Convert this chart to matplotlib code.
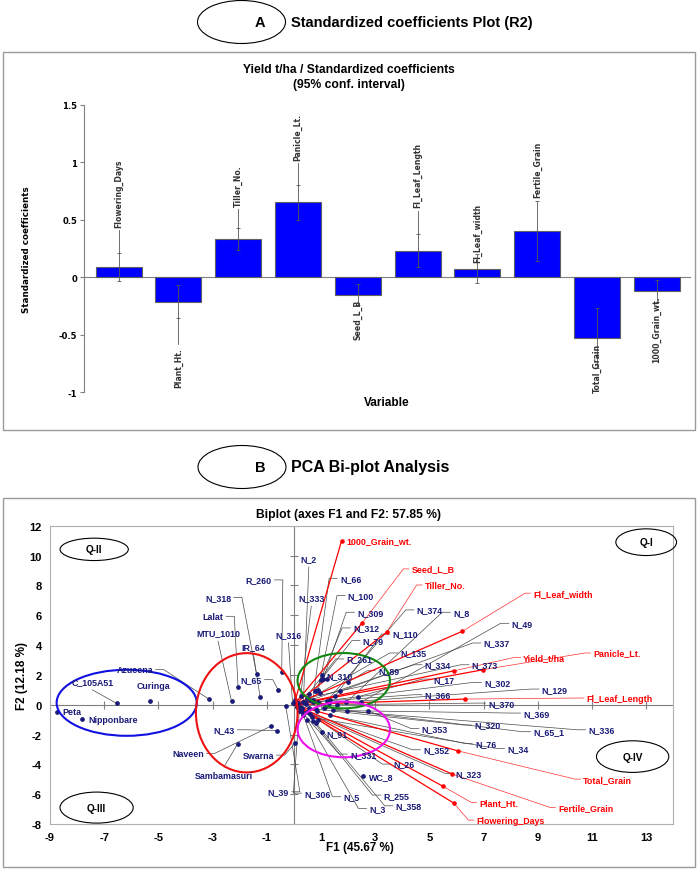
import matplotlib
matplotlib.use('Agg')
import matplotlib.pyplot as plt
from matplotlib.patches import Ellipse, Rectangle
import numpy as np

# ---------------- Panel A data ----------------
coef_vars = ['Flowering_Days', 'Plant_Ht.', 'Tiller_No.', 'Panicle_Lt.', 'Seed_L_B',
             'Fl_Leaf_Length', 'Fl_Leaf_width', 'Fertile_Grain', 'Total_Grain', '1000_Grain_wt.']
coef_vals = [0.087, -0.212, 0.333, 0.650, -0.151, 0.232, 0.075, 0.406, -0.528, -0.119]
ci_low = [-0.035, -0.357, 0.240, 0.500, -0.241, 0.090, -0.049, 0.145, -0.789, -0.218]
ci_high = [0.209, -0.067, 0.426, 0.800, -0.061, 0.374, 0.199, 0.667, -0.267, -0.020]
a_yticks = [-1, -0.5, 0, 0.5, 1, 1.5]
a_yticklabels = ['-1', '-0.5', '0', '0.5', '1', '1.5']

# ---------------- Panel B data ----------------
obs_names = ['Peta', 'Nipponbare', 'C_105A51', 'Curinga', 'Azucena', 'MTU_1010', 'Lalat', 'N_318',
             'IR_64', 'N_65', 'R_260', 'N_316', 'N_43', 'Naveen', 'Sambamasuri', 'Swarna', 'N_39',
             'N_2', 'N_333', 'N_66', 'N_100', 'N_309', 'N_312', 'N_79', 'R_261', 'N_310', 'N_110',
             'N_374', 'N_8', 'N_49', 'N_135', 'N_337', 'N_89', 'N_334', 'N_373', 'N_17', 'N_302',
             'N_129', 'N_366', 'N_370', 'N_369', 'N_336', 'N_320', 'N_65_1', 'N_353', 'N_76', 'N_34',
             'N_352', 'N_323', 'N_26', 'N_331', 'N_91', 'WC_8', 'R_255', 'N_358', 'N_3', 'N_5', 'N_306']
obs_f1 = [-8.76, -7.83, -6.54, -5.31, -3.14, -2.30, -2.06, -1.38,
          -1.25, -0.58, -0.45, -0.05, -0.64, -0.86, -2.08, 0.04, -0.30,
          0.35, 0.25, 0.70, 0.90, 1.08, 0.81, 1.00, 0.55, 1.04, 1.51,
          1.23, 1.94, 2.47, 0.96, 1.70, 1.98, 0.60, 0.50, 2.37, 0.90,
          1.30, 0.40, 1.60, 1.96, 1.45, 0.80, 1.10, 2.74, 1.35, 0.65,
          0.50, 0.60, 0.90, 0.30, 1.02, 2.56, 0.70, 0.80, 0.50, 0.35, 0.20]
obs_f2 = [-0.47, -0.96, 0.09, 0.27, 0.38, 0.23, 1.21, 2.06,
          0.54, 0.99, 2.17, 0.10, -1.74, -1.45, -2.64, -2.59, -0.10,
          0.20, 0.60, 0.35, 1.00, 1.72, 0.94, 1.68, 0.75, 1.99, 0.56,
          0.27, 0.16, 0.16, 0.80, 0.90, 1.50, 0.30, 0.45, 0.54, 0.20,
          0.10, 0.15, 0.00, -0.40, -0.36, -0.30, -0.20, -0.40, -0.70, -0.85,
          -0.50, -0.60, -1.00, -0.50, -1.85, -4.77, -1.10, -1.20, -1.00, -0.70, -0.40]
other_f1 = [0.15, 0.30, 0.45, 0.25, 0.70, 0.10, 0.85, 1.14, 0.22, 1.35, 0.55, 0.05, 1.23, 0.77]
other_f2 = [0.10, -0.20, 0.05, -0.35, 0.15, -0.15, -0.45, -0.13, -0.13, 0.30, -0.25, 0.35, 1.72, 0.94]

var_names = ['1000_Grain_wt.', 'Seed_L_B', 'Tiller_No.', 'Fl_Leaf_width', 'Yield_t/ha', 'Panicle_Lt.',
             'Fl_Leaf_Length', 'Total_Grain', 'Fertile_Grain', 'Plant_Ht.', 'Flowering_Days']
var_f1 = [1.76, 2.52, 3.42, 6.22, 5.92, 6.99, 6.31, 6.04, 5.84, 5.51, 5.90]
var_f2 = [11.00, 5.48, 4.86, 4.93, 2.28, 2.35, 0.38, -3.09, -4.65, -5.48, -6.60]

b_xticks = list(range(-9, 14, 2))
b_yticks = list(range(-8, 13, 2))
quad_names = ['Q-I', 'Q-II', 'Q-III', 'Q-IV']

# ---------------- Layout (positions / styles) ----------------
a_label_y = [0.44, -0.61, 0.62, 1.02, -0.19, 0.61, 0.13, 0.695, -0.571, -0.159]
obs_lab = [(-8.55, -0.45, 'left', False), (-7.6, -0.98, 'left', False), (-7.44, 1.55, 'center', True),
           (-5.17, 1.28, 'center', False), (-5.2, 2.35, 'right', True), (-2.8, 4.81, 'center', True),
           (-2.6, 5.93, 'right', True), (-2.32, 7.2, 'right', True), (-1.49, 3.92, 'center', True),
           (-1.18, 1.68, 'right', True), (-0.81, 8.37, 'right', True), (-0.2, 4.7, 'center', True),
           (-2.18, -1.68, 'right', True), (-3.32, -3.26, 'right', True), (-2.58, -4.72, 'center', True),
           (-0.74, -3.38, 'right', True), (-0.18, -5.84, 'right', True),
           (0.55, 9.78, 'center', True), (0.64, 7.16, 'center', True), (1.7, 8.48, 'left', True),
           (1.99, 7.32, 'left', True), (2.33, 6.2, 'left', True), (2.18, 5.15, 'left', True),
           (2.54, 4.3, 'left', True), (1.94, 3.07, 'left', True), (1.2, 1.95, 'left', False),
           (3.64, 4.74, 'left', True), (4.53, 6.36, 'left', True), (5.87, 6.2, 'left', True),
           (8.03, 5.46, 'left', True), (3.94, 3.47, 'left', True), (7.0, 4.14, 'left', True),
           (3.1, 2.28, 'left', True), (4.83, 2.68, 'left', True), (6.56, 2.68, 'left', True),
           (5.14, 1.72, 'left', True), (7.02, 1.5, 'left', True), (9.14, 1.05, 'left', True),
           (4.83, 0.67, 'left', True), (7.17, 0.11, 'left', True), (8.46, -0.56, 'left', True),
           (10.86, -1.68, 'left', True), (6.65, -1.36, 'left', True), (8.83, -1.81, 'left', True),
           (4.71, -1.59, 'left', True), (6.68, -2.59, 'left', True), (7.87, -2.93, 'left', True),
           (4.77, -3.02, 'left', True), (5.97, -4.6, 'left', True), (3.66, -3.98, 'left', True),
           (2.07, -3.31, 'left', True), (1.2, -1.92, 'left', False), (2.78, -4.8, 'left', False),
           (3.3, -6.06, 'left', True), (3.75, -6.78, 'left', True), (2.78, -6.95, 'left', True),
           (1.82, -6.17, 'left', True), (0.38, -5.93, 'left', True)]
var_lab = [(1.95, 11.0, False), (4.34, 9.11, True), (4.83, 8.03, True), (8.83, 7.48, True),
           (8.46, 3.18, True), (11.04, 3.47, True), (10.8, 0.45, True), (10.68, -4.99, True),
           (9.75, -6.89, True), (6.84, -6.55, True), (6.74, -7.74, True)]
quad_geom = [(13.0, 10.9, 2.24, 1.79), (-7.37, 10.42, 2.52, 1.5), (-7.28, -6.9, 2.7, 2.08),
             (12.5, -3.48, 2.67, 2.12)]
group_ell = [(-6.17, 0.13, 5.17, 4.43, '#1010E0'), (-1.74, -0.54, 3.75, 8.0, '#EE1111'),
             (1.84, 1.61, 3.41, 3.71, '#118811'), (1.84, -1.66, 3.41, 3.73, '#EE11EE')]

NARROW = ['Liberation Sans Narrow', 'Liberation Sans', 'DejaVu Sans']
NAVY = '#1a1a78'
W, H = 698.0, 870.0


def fx(px):
    return px / W


def fy(py):
    return 1 - py / H


fig = plt.figure(figsize=(6.98, 8.70), dpi=100)

# ---- frames & headers ----
for (x0, y0, x1, y1) in [(3, 53, 695, 431), (3, 499, 695, 868)]:
    fig.add_artist(Rectangle((fx(x0), fy(y1)), fx(x1) - fx(x0), fy(y0) - fy(y1),
                             transform=fig.transFigure, fill=False, ec='#9a9a9a', lw=1.0))
for (cx, cy, letter, title, tfs) in [(241.5, 23, 'A', 'Standardized coefficients Plot (R2)', 10.5),
                                     (242, 468, 'B', 'PCA Bi-plot Analysis', 11.5)]:
    fig.add_artist(Ellipse((fx(cx), fy(cy)), 88 / W, 43 / H, transform=fig.transFigure,
                           fill=False, ec='black', lw=0.8))
    fig.text(fx(cx + 18), fy(cy), letter, ha='center', va='center', fontsize=10.5,
             weight='bold', family=NARROW)
    fig.text(fx(291), fy(cy), title, ha='left', va='center', fontsize=tfs,
             weight='bold', family=NARROW)

# ---------------- Panel A ----------------
axA = fig.add_axes([fx(84.3), fy(393.3), fx(691) - fx(84.3), fy(105.7) - fy(393.3)])
xs = np.arange(len(coef_vars))
vals = np.array(coef_vals)
lo = np.array(ci_low)
hi = np.array(ci_high)
axA.bar(xs, vals, width=0.77, color='#0000FF', edgecolor='#606060', lw=0.8, zorder=2)
axA.errorbar(xs, vals, yerr=[vals - lo, hi - vals], fmt='none', ecolor='#555555',
             elinewidth=0.6, capsize=1.5, capthick=0.6, zorder=3)
for i, name in enumerate(coef_vars):
    ly = a_label_y[i]
    if vals[i] >= 0:
        if ly > hi[i]:
            axA.plot([xs[i], xs[i]], [hi[i], ly - 0.03], color='#555555', lw=0.6, zorder=3)
        axA.text(xs[i], ly, name, rotation=90, ha='center', va='bottom', fontsize=5.6,
                 weight='bold', color='#333333', zorder=4)
    else:
        if ly < lo[i]:
            axA.plot([xs[i], xs[i]], [lo[i], ly + 0.03], color='#555555', lw=0.6, zorder=3)
        axA.text(xs[i], ly, name, rotation=90, ha='center', va='top', fontsize=5.6,
                 weight='bold', color='#333333', zorder=4)
axA.axhline(0, color='#808080', lw=0.8, zorder=1)
axA.set_xlim(-0.573, 9.57)
axA.set_ylim(-1, 1.5)
axA.set_yticks(a_yticks)
axA.set_yticklabels(a_yticklabels, fontsize=6, weight='bold')
axA.set_xticks([])
for s in ['top', 'right', 'bottom']:
    axA.spines[s].set_visible(False)
axA.spines['left'].set_color('#808080')
axA.tick_params(axis='y', direction='out', length=3, color='#808080', pad=2)
fig.text(fx(27), fy(249.5), 'Standardized coefficients', rotation=90, ha='center', va='center',
         fontsize=6.3, weight='bold')
fig.text(fx(387), fy(403), 'Variable', ha='center', va='center', fontsize=8.5, weight='bold',
         family=NARROW)
fig.text(fx(349), fy(70), 'Yield t/ha / Standardized coefficients', ha='center', va='center',
         fontsize=8.7, weight='bold', family=NARROW)
fig.text(fx(349), fy(85), '(95% conf. interval)', ha='center', va='center',
         fontsize=8.7, weight='bold', family=NARROW)

# ---------------- Panel B ----------------
axB = fig.add_axes([fx(50), fy(825), fx(673.3) - fx(50), fy(526.8) - fy(825)])
axB.set_xlim(-9, 14)
axB.set_ylim(-8, 12)
for s in axB.spines.values():
    s.set_color('#b0b0b0')
    s.set_linewidth(0.8)
axB.axhline(0, color='#808080', lw=0.8, zorder=1)
axB.axvline(0, color='#808080', lw=0.8, zorder=1)
axB.plot(b_xticks, np.zeros(len(b_xticks)), ls='none', marker='|', ms=6, mew=0.8,
         color='#808080', zorder=1)
axB.plot(np.zeros(len(b_yticks)), b_yticks, ls='none', marker='_', ms=6, mew=0.8,
         color='#808080', zorder=1)
axB.set_xticks(b_xticks)
axB.set_yticks(b_yticks)
axB.set_xticklabels([str(v) for v in b_xticks], fontsize=8, weight='bold', family=NARROW)
axB.set_yticklabels([str(v) for v in b_yticks], fontsize=8, weight='bold', family=NARROW)
axB.tick_params(length=0, pad=6)

LFS = 6.4
for i, name in enumerate(obs_names):
    px, py = obs_f1[i], obs_f2[i]
    lx, ly, ha, lead = obs_lab[i]
    if lead:
        if ha == 'left':
            xs_l = [px, lx - 0.4, lx - 0.1]
            ys_l = [py, ly, ly]
        elif ha == 'right':
            xs_l = [px, lx + 0.4, lx + 0.1]
            ys_l = [py, ly, ly]
        else:
            end_y = ly - 0.55 if py < ly else ly + 0.55
            xs_l = [px, lx]
            ys_l = [py, end_y]
        axB.plot(xs_l, ys_l, color='#4a4a4a', lw=0.5, zorder=2)
    axB.text(lx, ly, name, ha=ha, va='center', fontsize=LFS, weight='bold', color=NAVY,
             family=NARROW, zorder=7)

for i, name in enumerate(var_names):
    vx, vy = var_f1[i], var_f2[i]
    lx, ly, lead = var_lab[i]
    axB.plot([0, vx], [0, vy], color='#FF0000', lw=0.9, zorder=3)
    axB.plot([vx], [vy], 'o', color='#FF0000', ms=2.3, zorder=4)
    if lead:
        axB.plot([vx, lx - 0.3, lx - 0.1], [vy, ly, ly], color='#FF3030', lw=0.5, zorder=3)
    axB.text(lx, ly, name, ha='left', va='center', fontsize=LFS, weight='bold',
             color='#FF0000', family=NARROW, zorder=7)

axB.plot(obs_f1, obs_f2, 'o', color=NAVY, ms=2.4, ls='none', zorder=5)
axB.plot(other_f1, other_f2, 'o', color=NAVY, ms=2.4, ls='none', zorder=5)

for (cx, cy, w, h, c) in group_ell:
    axB.add_patch(Ellipse((cx, cy), w, h, fill=False, ec=c, lw=1.5, zorder=6))

for name, (cx, cy, w, h) in zip(quad_names, quad_geom):
    axB.add_patch(Ellipse((cx, cy), w, h, fill=False, ec='black', lw=0.8, zorder=6,
                          clip_on=False))
    axB.text(cx, cy, name, ha='center', va='center', fontsize=7.2, weight='bold',
             family=NARROW, zorder=7)

fig.text(fx(349), fy(515), 'Biplot (axes F1 and F2: 57.85 %)', ha='center', va='center',
         fontsize=8.7, weight='bold', family=NARROW)
fig.text(fx(22), fy(676), 'F2 (12.18 %)', rotation=90, ha='center', va='center',
         fontsize=8.5, weight='bold', family=NARROW)
fig.text(fx(360), fy(848), 'F1 (45.67 %)', ha='center', va='center',
         fontsize=8.5, weight='bold', family=NARROW)

fig.savefig('out.png', dpi=100)
